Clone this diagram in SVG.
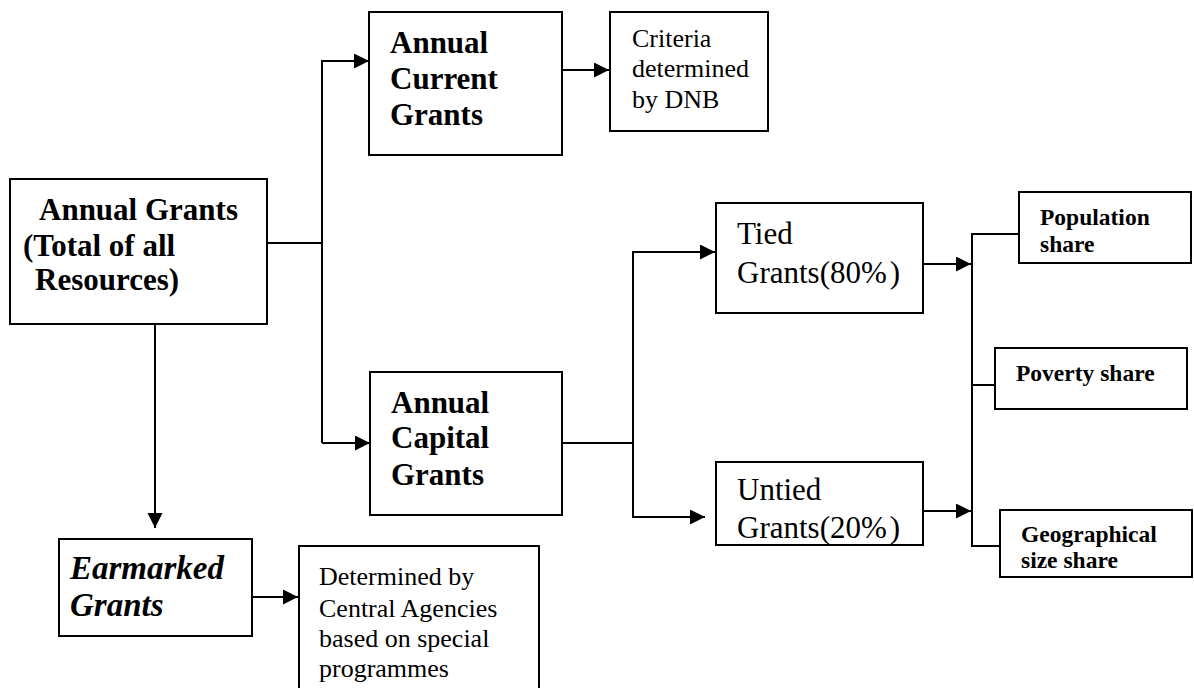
<svg xmlns="http://www.w3.org/2000/svg" width="1194" height="688" viewBox="0 0 1194 688">
<style>
.box{fill:#fff;stroke:#000;stroke-width:2}
.ln{fill:none;stroke:#000;stroke-width:2}
.t{font-family:"Liberation Serif","Times New Roman",serif;fill:#000}
.b31{font-size:31px;font-weight:bold}
.r31{font-size:31px}
.r26{font-size:26px}
.b23{font-size:23.5px;font-weight:bold}
.bi{font-size:33px;font-weight:bold;font-style:italic}
</style>
<defs>
<marker id="ah" markerUnits="userSpaceOnUse" markerWidth="16" markerHeight="16" refX="15" refY="7.5" orient="auto">
<path d="M0,0 L15,7.5 L0,15 z" fill="#000"/>
</marker>
</defs>
<rect width="1194" height="688" fill="#fff"/>
<g id="connectors">
<path class="ln" d="M267,243 H322"/>
<path class="ln" d="M322,443 V61 H369" marker-end="url(#ah)"/>
<path class="ln" d="M322,443 H370" marker-end="url(#ah)"/>
<path class="ln" d="M562,70 H609" marker-end="url(#ah)"/>
<path class="ln" d="M155,324 V528" marker-end="url(#ah)"/>
<path class="ln" d="M252,597 H298" marker-end="url(#ah)"/>
<path class="ln" d="M562,443 H633"/>
<path class="ln" d="M633,443 V252 H715" marker-end="url(#ah)"/>
<path class="ln" d="M633,443 V517 H705" marker-end="url(#ah)"/>
<path class="ln" d="M923,264 H971" marker-end="url(#ah)"/>
<path class="ln" d="M923,511 H971" marker-end="url(#ah)"/>
<path class="ln" d="M1019,234 H972 V546 H1000"/>
<path class="ln" d="M972,385 H995"/>
</g>
<g id="annual-grants">
<rect class="box" x="10" y="179" width="257" height="145"/>
<text class="t b31" x="39" y="220">Annual Grants</text>
<text class="t b31" x="23" y="256">(Total of all</text>
<text class="t b31" x="35" y="290">Resources)</text>
</g>
<g id="annual-current">
<rect class="box" x="369" y="12" width="193" height="143"/>
<text class="t b31" x="390" y="53">Annual</text>
<text class="t b31" x="390" y="89">Current</text>
<text class="t b31" x="390" y="125">Grants</text>
</g>
<g id="criteria">
<rect class="box" x="610" y="12" width="158" height="119"/>
<text class="t r26" x="632" y="47">Criteria</text>
<text class="t r26" x="632" y="77">determined</text>
<text class="t r26" x="632" y="108">by DNB</text>
</g>
<g id="annual-capital">
<rect class="box" x="370" y="372" width="192" height="143"/>
<text class="t b31" x="391" y="413">Annual</text>
<text class="t b31" x="391" y="448">Capital</text>
<text class="t b31" x="391" y="485">Grants</text>
</g>
<g id="tied">
<rect class="box" x="716" y="203" width="207" height="110"/>
<text class="t r31" x="737" y="244">Tied</text>
<text class="t r31" x="737" y="283">Grants(80%<tspan dx="3">)</tspan></text>
</g>
<g id="untied">
<rect class="box" x="716" y="462" width="207" height="83"/>
<text class="t r31" x="737" y="500">Untied</text>
<text class="t r31" x="737" y="538">Grants(20%<tspan dx="3">)</tspan></text>
</g>
<g id="population">
<rect class="box" x="1019" y="192" width="172" height="71"/>
<text class="t b23" x="1040" y="225">Population</text>
<text class="t b23" x="1040" y="252">share</text>
</g>
<g id="poverty">
<rect class="box" x="995" y="348" width="192" height="61"/>
<text class="t b23" x="1016" y="381">Poverty share</text>
</g>
<g id="geographical">
<rect class="box" x="1000" y="510" width="192" height="67"/>
<text class="t b23" x="1021" y="542">Geographical</text>
<text class="t b23" x="1021" y="568">size share</text>
</g>
<g id="earmarked">
<rect class="box" x="59" y="539" width="193" height="97"/>
<text class="t bi" x="70" y="579">Earmarked</text>
<text class="t bi" x="70" y="616">Grants</text>
</g>
<g id="determined">
<rect class="box" x="299" y="546" width="240" height="160"/>
<text class="t r26" x="319" y="585">Determined by</text>
<text class="t r26" x="319" y="617">Central Agencies</text>
<text class="t r26" x="319" y="647">based on special</text>
<text class="t r26" x="319" y="677">programmes</text>
</g>
</svg>
